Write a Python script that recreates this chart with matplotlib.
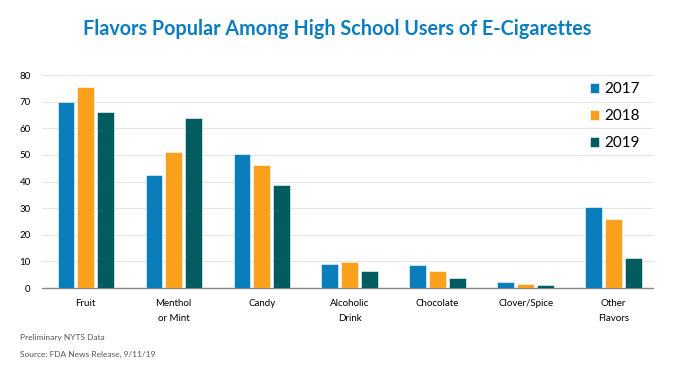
import numpy as np
import matplotlib.pyplot as plt

plt.rcParams['font.family'] = ['Lato', 'DejaVu Sans']

categories = ['Fruit', 'Menthol\nor Mint', 'Candy', 'Alcoholic\nDrink', 'Chocolate', 'Clover/Spice', 'Other\nFlavors']
years = ['2017', '2018', '2019']
vals_2017 = [69.8, 42.3, 50.4, 9.2, 8.5, 2.3, 30.4]
vals_2018 = [75.5, 51.1, 46.2, 9.7, 6.5, 1.5, 26.1]
vals_2019 = [66.1, 63.9, 38.6, 6.5, 3.9, 1.1, 11.3]
colors = ['#0a7dbb', '#f9a11d', '#015c5f']

fig = plt.figure(figsize=(6.74, 3.81), dpi=100)
ax = fig.add_axes([0.062, 0.244, 0.907, 0.559])

x = np.arange(len(categories))
w = 0.19
step = 0.225
for i, (vals, lab) in enumerate(zip([vals_2017, vals_2018, vals_2019], years)):
    ax.bar(x + (i - 1) * step, vals, width=w, color=colors[i], label=lab, zorder=3,
           edgecolor='white', linewidth=0.4)

ax.set_xlim(-0.5, 6.45)
ax.set_ylim(0, 80)
ax.set_yticks(range(0, 81, 10))
ax.set_xticks(x)
ax.set_xticklabels(categories, fontsize=7, linespacing=1.9)
ax.tick_params(axis='y', labelsize=7, length=0, pad=8)
ax.tick_params(axis='x', length=0, pad=8)
ax.grid(axis='y', color='#e4e4e4', linewidth=0.8, zorder=0)
for s in ['top', 'right', 'left']:
    ax.spines[s].set_visible(False)
ax.spines['bottom'].set_color('#888888')
ax.spines['bottom'].set_linewidth(1.0)

leg = ax.legend(loc='upper right', bbox_to_anchor=(1.0, 1.03), frameon=False, fontsize=11,
                handlelength=0.6, handleheight=0.6, handletextpad=0.3, labelspacing=0.85)

fig.text(0.5, 0.925, 'Flavors Popular Among High School Users of E-Cigarettes',
         ha='center', va='center', fontsize=14.2, color='#0a7dc0', fontweight='bold')
fig.text(0.03, 0.108, 'Preliminary NYTS Data', fontsize=6, color='#555555')
fig.text(0.03, 0.062, 'Source: FDA News Release, 9/11/19', fontsize=6, color='#555555')

fig.savefig('out.png', dpi=100)
